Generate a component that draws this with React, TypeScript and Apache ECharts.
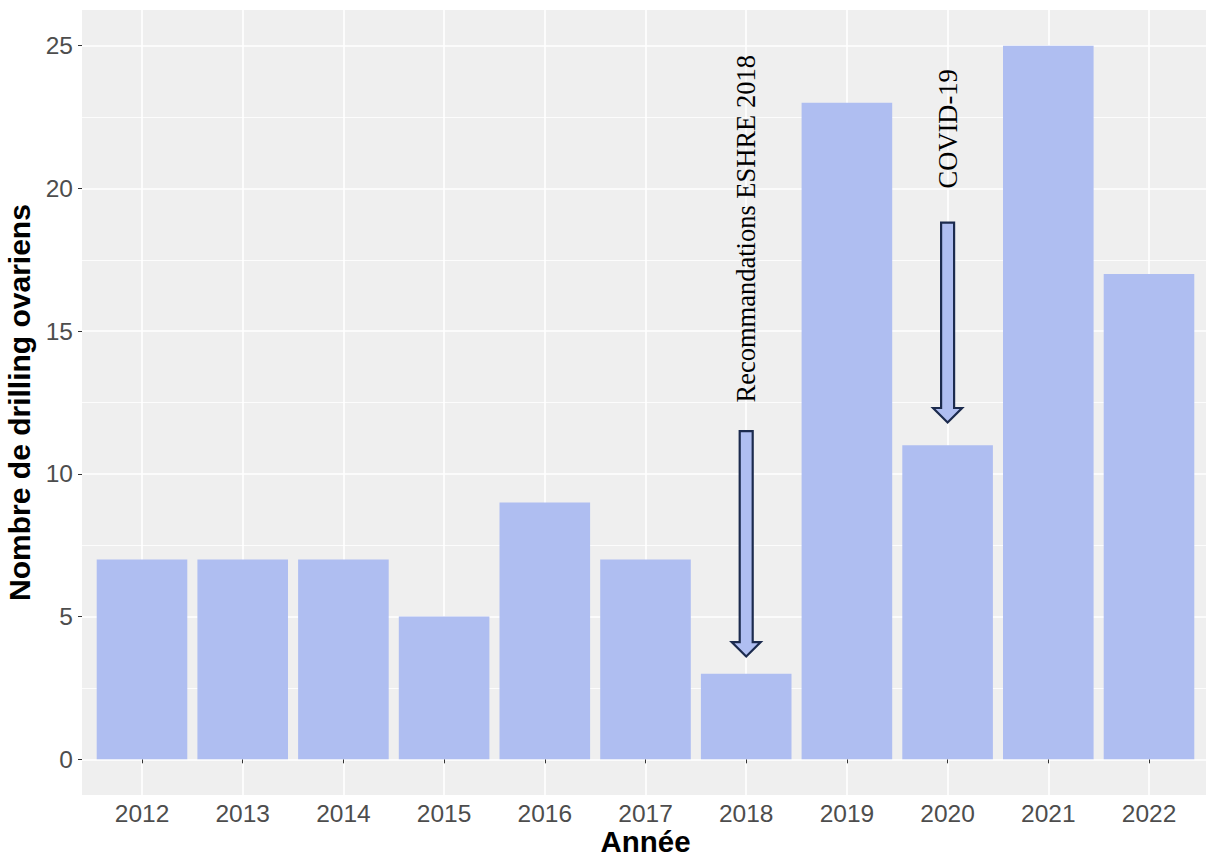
import React, { useEffect, useRef } from "react";
import * as echarts from "echarts";

const years = ["2012", "2013", "2014", "2015", "2016", "2017", "2018", "2019", "2020", "2021", "2022"];
const counts = [7, 7, 7, 5, 9, 7, 3, 23, 11, 25, 17];

const annotationYears = ["2018", "2020"];
const annotationY = [12.5, 20];
const annotationLabels = ["Recommandations ESHRE 2018", "COVID-19"];

const arrowYears = ["2018", "2020"];
const arrowStart = [11.5, 18.8];
const arrowEnd = [3.6, 11.8];

const yMin = -1.25;
const yMax = 26.25;

const BAR_COLOR = "#AFBEF1";
const PANEL = "#EFEFEF";
const SANS = "'Liberation Sans', Arial, sans-serif";
const SERIF = "'Liberation Serif', 'Times New Roman', serif";

export default function App() {
  const ref = useRef<HTMLDivElement>(null);

  useEffect(() => {
    if (!ref.current) return;
    const chart = echarts.init(ref.current, undefined, { renderer: "svg" });

    const W = 1206;
    const H = 857;
    const plotLeft = 82;
    const plotTop = 10;
    const plotBottom = 62;
    const plotH = H - plotTop - plotBottom;
    const pxPerUnit = plotH / (yMax - yMin);
    const topA = plotTop + (yMax - 25) * pxPerUnit;
    const bottomA = plotBottom + (0 - yMin) * pxPerUnit;

    const option: any = {
      animation: false,
      backgroundColor: "#ffffff",
      graphic: [
        {
          type: "rect",
          z: -100,
          silent: true,
          shape: { x: plotLeft, y: plotTop, width: W - plotLeft, height: plotH },
          style: { fill: PANEL },
        },
      ],
      grid: [
        { left: plotLeft, right: 0, top: topA, bottom: bottomA, containLabel: false, outerBoundsMode: "none" },
        { left: 142, right: 57, top: plotTop, bottom: plotBottom, containLabel: false, outerBoundsMode: "none" },
      ],
      xAxis: [
        { gridIndex: 0, type: "value", show: false, min: 0, max: 1 },
        {
          gridIndex: 1,
          type: "category",
          data: years,
          boundaryGap: false,
          axisLine: { show: false },
          axisTick: { show: true, length: 4, lineStyle: { color: "#333333", width: 1 } },
          axisLabel: { fontSize: 24.5, lineHeight: 25, color: "#4D4D4D", fontFamily: SANS, margin: 6 },
          splitLine: { show: true, lineStyle: { color: "#ffffff", width: 1.6 } },
          name: "Année",
          nameLocation: "middle",
          nameGap: 31,
          nameMoveOverlap: false,
          nameTextStyle: { fontSize: 29.5, lineHeight: 30, fontWeight: "bold", color: "#000000", fontFamily: SANS },
        },
      ],
      yAxis: [
        {
          gridIndex: 0,
          type: "value",
          min: 0,
          max: 25,
          interval: 5,
          axisLine: { show: false },
          axisTick: { show: true, length: 4, lineStyle: { color: "#333333", width: 1 } },
          axisLabel: { fontSize: 24.5, color: "#4D4D4D", fontFamily: SANS, margin: 9 },
          splitLine: { show: true, lineStyle: { color: "#ffffff", width: 1.6 } },
          minorTick: { show: false, splitNumber: 2 },
          minorSplitLine: { show: true, lineStyle: { color: "#ffffff", width: 0.8 } },
          name: "Nombre de drilling ovariens",
          nameLocation: "middle",
          nameGap: 37,
          nameTextStyle: { fontSize: 30, fontWeight: "bold", color: "#000000", fontFamily: SANS },
        },
        { gridIndex: 1, type: "value", min: yMin, max: yMax, show: false },
      ],
      series: [
        {
          type: "bar",
          xAxisIndex: 1,
          yAxisIndex: 1,
          data: counts,
          barWidth: 90.6,
          clip: false,
          itemStyle: { color: BAR_COLOR },
          z: 2,
        },
        {
          type: "custom",
          xAxisIndex: 1,
          yAxisIndex: 1,
          clip: false,
          z: 5,
          data: arrowYears.map((y, i) => [y, arrowStart[i], arrowEnd[i]]),
          renderItem: (params: any, api: any) => {
            const x = api.value(0);
            const top = api.coord([x, api.value(1)]);
            const tip = api.coord([x, api.value(2)]);
            const cx = top[0];
            const hw = 6.5;
            const headHW = 14.5;
            const headH = 14.5;
            const yb = tip[1] - headH;
            return {
              type: "polygon",
              shape: {
                points: [
                  [cx - hw, top[1]],
                  [cx + hw, top[1]],
                  [cx + hw, yb],
                  [cx + headHW, yb],
                  [cx, tip[1]],
                  [cx - headHW, yb],
                  [cx - hw, yb],
                ],
              },
              style: { fill: BAR_COLOR, stroke: "#1C2B4E", lineWidth: 2.2, lineJoin: "miter" },
            };
          },
        },
        {
          type: "custom",
          xAxisIndex: 1,
          yAxisIndex: 1,
          clip: false,
          z: 6,
          data: annotationYears.map((y, i) => [y, annotationY[i]]),
          renderItem: (params: any, api: any) => {
            const p = api.coord([api.value(0), api.value(1)]);
            return {
              type: "text",
              x: p[0],
              y: p[1],
              rotation: Math.PI / 2,
              style: {
                text: annotationLabels[params.dataIndex],
                fontFamily: SERIF,
                fontSize: 26.5,
                fill: "#000000",
                align: "left",
                verticalAlign: "middle",
              },
            };
          },
        },
      ],
    };

    chart.setOption(option);
    return () => chart.dispose();
  }, []);

  return (
    <div
      ref={ref}
      style={{ position: "fixed", left: 0, top: 0, width: 1206, height: 857, background: "#ffffff" }}
    />
  );
}
